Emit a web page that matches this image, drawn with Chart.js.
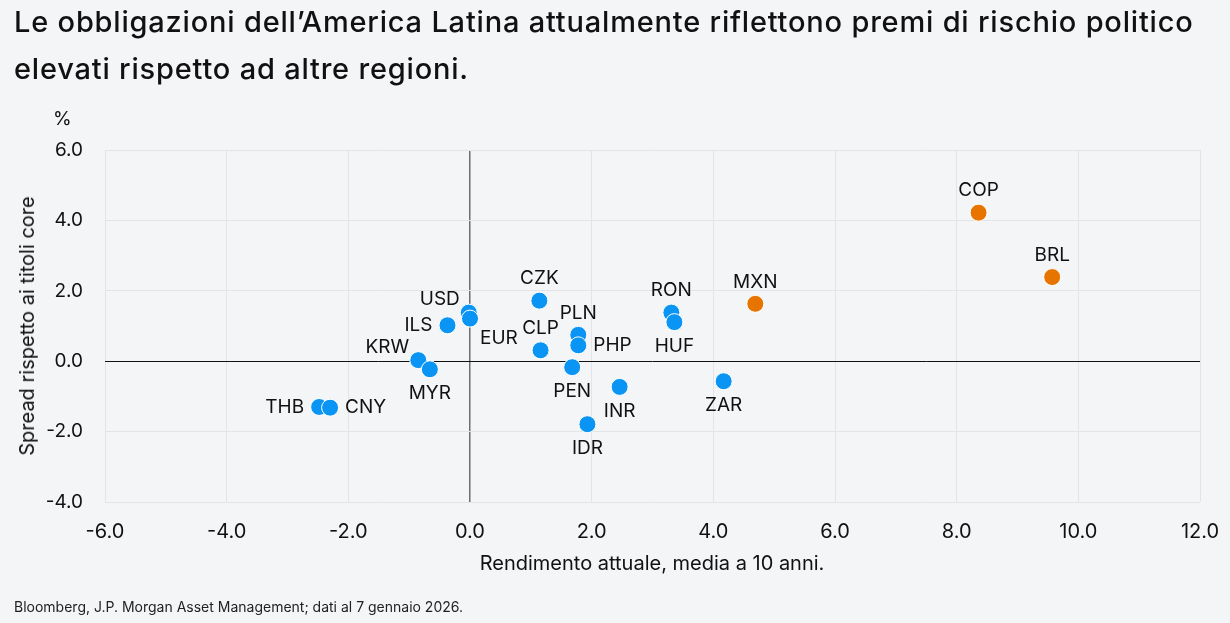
<!DOCTYPE html>
<html>
<head>
<meta charset="utf-8">
<script src="https://cdn.jsdelivr.net/npm/chart.js@4.4.1/dist/chart.umd.min.js"></script>
<style>
  html, body { margin:0; padding:0; background:#f4f5f7; width:1230px; height:623px; overflow:hidden; font-family: Inter, "Noto Sans", sans-serif; color:#111; }
  #wrap { position:relative; width:1230px; height:623px; }
  canvas { position:absolute; left:0; top:0; }
  .t { position:absolute; white-space:nowrap; }
  #title { left:14px; top:-2px; font-size:29px; line-height:47px; font-weight:500; letter-spacing:0.8px; }
  #pct { left:53px; top:108px; font-size:19px; line-height:22px; }
  #ytitle { left:27px; top:326px; font-size:20px; line-height:22px; transform:translate(-50%,-50%) rotate(-90deg); }
  #xtitle { left:652px; top:551px; font-size:20px; line-height:24px; transform:translateX(-50%); }
  #foot { left:14px; top:599px; font-size:14px; line-height:16px; color:#222; }
</style>
</head>
<body>
<div id="wrap">
  <canvas id="c" width="1230" height="623"></canvas>
  <div class="t" id="title">Le obbligazioni dell’America Latina attualmente riflettono premi di rischio politico<br>elevati rispetto ad altre regioni.</div>
  <div class="t" id="pct">%</div>
  <div class="t" id="ytitle">Spread rispetto ai titoli core</div>
  <div class="t" id="xtitle">Rendimento attuale, media a 10 anni.</div>
  <div class="t" id="foot">Bloomberg, J.P. Morgan Asset Management; dati al 7 gennaio 2026.</div>
</div>
<script>
// ---- data ----
const currencies = ["THB","CNY","KRW","MYR","ILS","USD","EUR","CZK","CLP","PLN","PHP","PEN","IDR","INR","RON","HUF","ZAR","MXN","COP","BRL"];
const yieldVsAvg = [-2.48,-2.30,-0.85,-0.66,-0.37,-0.02,0.00,1.14,1.16,1.78,1.78,1.68,1.93,2.46,3.31,3.36,4.17,4.69,8.36,9.57];
const spreadVsCore = [-1.30,-1.32,0.03,-0.23,1.02,1.38,1.21,1.72,0.31,0.75,0.45,-0.17,-1.79,-0.73,1.38,1.11,-0.57,1.63,4.22,2.39];
const highlight = ["MXN","COP","BRL"];
const labelPlacement = ["left","right","topleft","bottom","left","topleft","bottomright","top","top","top","right","bottom","bottom","bottom","top","bottom","bottom","top","top","top"];
const xTicks = [-6,-4,-2,0,2,4,6,8,10,12];
const yTicks = [-4,-2,0,2,4,6];

function pts(filterFn) {
  const out = [];
  currencies.forEach((c, i) => { if (filterFn(c, i)) out.push({x: yieldVsAvg[i], y: spreadVsCore[i], code: c, place: labelPlacement[i]}); });
  return out;
}

const BLUE = '#0a95f5';
const ORANGE = '#e87400';

const labelPlugin = {
  id: 'pointLabels',
  afterDatasetsDraw(chart) {
    const ctx = chart.ctx;
    ctx.save();
    ctx.font = '19px Inter, "Noto Sans", sans-serif';
    ctx.fillStyle = '#111';
    chart.data.datasets.forEach((ds, di) => {
      const meta = chart.getDatasetMeta(di);
      meta.data.forEach((el, i) => {
        const d = ds.data[i];
        let x = el.x, y = el.y, align = 'center';
        switch (d.place) {
          case 'top': y -= 22; break;
          case 'bottom': y += 24; break;
          case 'left': x -= 15; align = 'right'; break;
          case 'right': x += 15; align = 'left'; break;
          case 'topleft': x -= 9; y -= 13; align = 'right'; break;
          case 'bottomright': x += 10; y += 20; align = 'left'; break;
        }
        ctx.textAlign = align;
        ctx.textBaseline = 'middle';
        ctx.fillText(d.code, x, y);
      });
    });
    ctx.restore();
  }
};

new Chart(document.getElementById('c'), {
  type: 'scatter',
  data: {
    datasets: [
      { data: pts(c => !highlight.includes(c)), backgroundColor: BLUE, borderColor: '#ffffff', borderWidth: 1, pointRadius: 8.5, pointHoverRadius: 8.5 },
      { data: pts(c => highlight.includes(c)), backgroundColor: ORANGE, borderColor: '#ffffff', borderWidth: 1, pointRadius: 8.5, pointHoverRadius: 8.5 }
    ]
  },
  options: {
    responsive: false,
    animation: false,
    events: [],
    layout: { padding: { top: 150, right: 30, left: 0, bottom: 0 } },
    plugins: { legend: { display: false }, tooltip: { enabled: false } },
    scales: {
      x: {
        type: 'linear', min: -6, max: 12,
        afterFit: s => { s.height = 121; s.paddingLeft = 0; s.paddingRight = 0; },
        afterBuildTicks: s => { s.ticks = xTicks.map(v => ({value: v})); },
        grid: {
          drawTicks: false,
          color: c => c.tick && c.tick.value === 0 ? '#6e6e6e' : '#e2e4e8',
          lineWidth: c => c.tick && c.tick.value === 0 ? 1.5 : 1
        },
        border: { display: false },
        ticks: { color: '#111', font: { family: 'Inter', size: 20 }, padding: 18, maxRotation: 0, callback: v => v.toFixed(1) }
      },
      y: {
        type: 'linear', min: -4, max: 6,
        afterFit: s => { s.width = 105; s.paddingTop = 0; s.paddingBottom = 0; },
        afterBuildTicks: s => { s.ticks = yTicks.map(v => ({value: v})); },
        grid: {
          drawTicks: false,
          color: c => c.tick && c.tick.value === 0 ? '#111111' : '#e2e4e8',
          lineWidth: 1
        },
        border: { display: false },
        ticks: { color: '#111', font: { family: 'Inter', size: 19 }, padding: 22, callback: v => v.toFixed(1) }
      }
    }
  },
  plugins: [labelPlugin]
});
</script>
</body>
</html>
